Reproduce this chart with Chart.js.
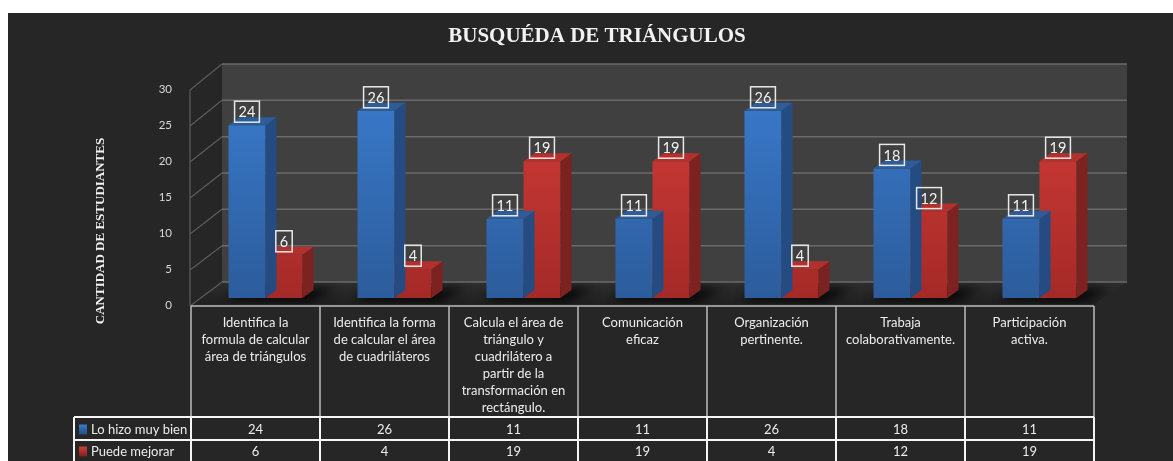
<!DOCTYPE html>
<html><head><meta charset="utf-8">
<script src="https://cdn.jsdelivr.net/npm/chart.js@4.4.1/dist/chart.umd.min.js"></script>
<style>html,body{margin:0;padding:0;background:#fff;overflow:hidden}canvas{display:block}</style>
</head><body>
<canvas id="c" width="1173" height="461"></canvas>
<script>
const chartTitle = "BUSQUÉDA DE TRIÁNGULOS";
const yAxisTitle = "CANTIDAD DE ESTUDIANTES";
const categories = [
  ["Identifica la", "formula de calcular", "área de triángulos"],
  ["Identifica la forma", "de calcular el área", "de cuadriláteros"],
  ["Calcula el área de", "triángulo y", "cuadrilátero a", "partir de la", "transformación en", "rectángulo."],
  ["Comunicación", "eficaz"],
  ["Organización", "pertinente."],
  ["Trabaja", "colaborativamente."],
  ["Participación", "activa."]
];
const seriesNames = ["Lo hizo muy bien", "Puede mejorar"];
const loHizoMuyBien = [24, 26, 11, 11, 26, 18, 11];
const puedeMejorar = [6, 4, 19, 19, 4, 12, 19];
const yTicks = [0, 5, 10, 15, 20, 25, 30];

const FONT = "Lato, 'Open Sans', sans-serif";
const SERIF = "'Liberation Serif', 'DejaVu Serif', serif";
const DX = 11, DY = -8;
const palette = [
  {top: '#3a7bcd', bottom: '#2c5c9b', side: '#244c82', cap: '#2d5c99'},
  {top: '#d43d39', bottom: '#a42a27', side: '#7c2220', cap: '#b3302c'}
];

function frontGrad(idx) {
  return (ctx) => {
    const chart = ctx.chart;
    const ca = chart.chartArea;
    if (!ca) return palette[idx].top;
    const g = chart.ctx.createLinearGradient(0, ca.top, 0, ca.bottom);
    g.addColorStop(0, palette[idx].top);
    g.addColorStop(1, palette[idx].bottom);
    return g;
  };
}

function geom(chart) {
  const ca = chart.chartArea, ys = chart.scales.y;
  const fx0 = ca.left - 11, fx1 = ca.right - 10;
  const bx0 = fx0 + 32, bx1 = fx1 + 33;
  const yf = v => ys.getPixelForValue(v) + 8;
  const yb = v => ys.getPixelForValue(v) - 16 - v * 0.067;
  return {ca, ys, fx0, fx1, bx0, bx1, yf, yb};
}

const backgroundPlugin = {
  id: 'bg',
  beforeDraw(chart) {
    const c = chart.ctx;
    c.save();
    c.fillStyle = '#ffffff';
    c.fillRect(0, 0, chart.width, chart.height);
    c.fillStyle = '#262626';
    c.fillRect(8, 13, chart.width - 8, chart.height - 13);
    c.fillStyle = '#f2f2f2';
    c.font = "bold 21px " + SERIF;
    c.textAlign = 'center';
    c.textBaseline = 'alphabetic';
    c.fillText(chartTitle, 597, 42);
    c.translate(101, 231);
    c.rotate(-Math.PI / 2);
    c.font = "bold 13px " + SERIF;
    c.textBaseline = 'middle';
    c.fillText(yAxisTitle, 0, 0);
    c.restore();
  }
};

const wallsPlugin = {
  id: 'walls',
  beforeDatasetsDraw(chart) {
    const {fx0, fx1, bx0, bx1, yf, yb} = geom(chart);
    const c = chart.ctx;
    c.save();
    c.fillStyle = '#404040';
    c.fillRect(bx0, yb(30), bx1 - bx0, yb(0) - yb(30));
    const fg = c.createLinearGradient(0, yb(0), 0, yf(0));
    fg.addColorStop(0, '#2e2e2e');
    fg.addColorStop(1, '#1e1e1e');
    c.fillStyle = fg;
    c.beginPath();
    c.moveTo(fx0, yf(0) - 2); c.lineTo(fx1, yf(0) - 2); c.lineTo(bx1, yb(0)); c.lineTo(bx0, yb(0)); c.closePath();
    c.fill();
    const metas = [chart.getDatasetMeta(0), chart.getDatasetMeta(1)];
    c.save();
    c.beginPath();
    c.moveTo(fx0, yf(0) - 2); c.lineTo(fx1, yf(0) - 2); c.lineTo(bx1, yb(0)); c.lineTo(bx0, yb(0)); c.closePath();
    c.clip();
    c.filter = 'blur(5px)';
    c.fillStyle = 'rgba(0,0,0,0.75)';
    metas[0].data.forEach((el, i) => {
      const el2 = metas[1].data[i];
      const l = el.x - el.width / 2, r = el2.x + el2.width / 2;
      c.beginPath();
      c.moveTo(l - 2, el.base + 2);
      c.lineTo(r + 6, el.base + 5);
      c.lineTo(r + DX + 22, el.base + DY - 2);
      c.lineTo(l + DX, el.base + DY - 2);
      c.closePath();
      c.fill();
    });
    c.restore();
    c.strokeStyle = '#6a6a6a';
    c.lineWidth = 1.5;
    yTicks.forEach(v => {
      c.beginPath(); c.moveTo(bx0, yb(v)); c.lineTo(bx1, yb(v)); c.stroke();
    });
    c.strokeStyle = '#5c5c5c';
    c.lineWidth = 1.2;
    yTicks.forEach(v => {
      c.beginPath(); c.moveTo(fx0, yf(v)); c.lineTo(bx0, yb(v)); c.stroke();
    });
    c.beginPath(); c.moveTo(fx0, yf(0)); c.lineTo(fx0, yf(30)); c.stroke();
    c.restore();
  }
};

const threeDPlugin = {
  id: 'threeD',
  afterDatasetDraw(chart, args) {
    const p = palette[args.index];
    const c = chart.ctx;
    c.save();
    args.meta.data.forEach(el => {
      const l = el.x - el.width / 2, r = el.x + el.width / 2, t = el.y, b = el.base;
      c.fillStyle = p.side;
      c.beginPath();
      c.moveTo(r, t); c.lineTo(r + DX, t + DY); c.lineTo(r + DX, b + DY); c.lineTo(r, b); c.closePath();
      c.fill();
      c.fillStyle = p.cap;
      c.beginPath();
      c.moveTo(l, t); c.lineTo(l + DX, t + DY); c.lineTo(r + DX, t + DY); c.lineTo(r, t); c.closePath();
      c.fill();
    });
    c.restore();
  }
};

const labelsPlugin = {
  id: 'valueLabels',
  afterDatasetsDraw(chart) {
    const c = chart.ctx;
    c.save();
    c.font = "14.5px " + FONT;
    c.textAlign = 'center';
    c.textBaseline = 'middle';
    chart.data.datasets.forEach((ds, di) => {
      chart.getDatasetMeta(di).data.forEach((el, i) => {
        const txt = String(ds.data[i]);
        const w = c.measureText(txt).width + 8, h = 21;
        const x = el.x - w / 2, y = el.y - 3 - h;
        c.strokeStyle = '#e8e8e8';
        c.lineWidth = 1.5;
        c.strokeRect(x, y, w, h);
        c.fillStyle = '#f2f2f2';
        c.fillText(txt, el.x, y + h / 2 + 1);
      });
    });
    c.restore();
  }
};

const tablePlugin = {
  id: 'dataTable',
  afterDraw(chart) {
    const c = chart.ctx;
    const xs = chart.scales.x;
    const {yf} = geom(chart);
    const n = categories.length;
    const cw = (xs.right - xs.left) / n;
    const L = i => xs.getPixelForValue(i) - cw / 2 - 10;
    const top = yf(0), hdrB = 417, r1 = 440, r2 = 463, legL = 74;
    c.save();
    c.strokeStyle = '#bdbdbd';
    c.lineWidth = 1.5;
    c.beginPath(); c.moveTo(L(0), top); c.lineTo(L(n), top); c.stroke();
    for (let i = 0; i <= n; i++) {
      c.beginPath(); c.moveTo(L(i), top); c.lineTo(L(i), hdrB); c.stroke();
    }
    c.strokeStyle = '#f5f5f5';
    c.lineWidth = 2;
    [hdrB, r1, r2].forEach(y => {
      c.beginPath(); c.moveTo(legL, y); c.lineTo(L(n), y); c.stroke();
    });
    [legL].concat([...Array(n + 1).keys()].map(L)).forEach(x => {
      c.beginPath(); c.moveTo(x, hdrB); c.lineTo(x, r2); c.stroke();
    });
    c.fillStyle = '#ececec';
    c.font = "13px " + FONT;
    c.textAlign = 'center';
    c.textBaseline = 'middle';
    categories.forEach((lines, i) => {
      const cx = L(i) + cw / 2;
      lines.forEach((ln, k) => c.fillText(ln, cx, 323 + k * 17));
    });
    const rows = [loHizoMuyBien, puedeMejorar];
    rows.forEach((arr, ri) => {
      const cy = ri === 0 ? (hdrB + r1) / 2 + 1 : (r1 + r2) / 2;
      arr.forEach((v, i) => c.fillText(String(v), L(i) + cw / 2, cy));
      const g = c.createLinearGradient(0, cy - 5, 0, cy + 5);
      g.addColorStop(0, palette[ri].top);
      g.addColorStop(1, palette[ri].side);
      c.fillStyle = g;
      c.fillRect(79, cy - 5, 8, 10);
      c.fillStyle = '#ececec';
      c.textAlign = 'left';
      c.fillText(seriesNames[ri], 91, cy);
      c.textAlign = 'center';
    });
    c.restore();
  }
};

new Chart(document.getElementById('c'), {
  type: 'bar',
  data: {
    labels: categories,
    datasets: [
      {label: seriesNames[0], data: loHizoMuyBien, backgroundColor: frontGrad(0), borderWidth: 0},
      {label: seriesNames[1], data: puedeMejorar, backgroundColor: frontGrad(1), borderWidth: 0}
    ]
  },
  options: {
    responsive: false,
    animation: false,
    devicePixelRatio: 1,
    layout: {padding: {left: 0, right: 69, top: 82, bottom: 163}},
    datasets: {bar: {categoryPercentage: 0.574, barPercentage: 1}},
    plugins: {legend: {display: false}, tooltip: {enabled: false}, title: {display: false}},
    scales: {
      x: {display: false},
      y: {
        min: 0, max: 30,
        afterFit: s => { s.width = 201; },
        grid: {display: false},
        border: {display: false},
        ticks: {stepSize: 5, color: '#d9d9d9', font: {family: FONT, size: 11.5}, padding: 21, labelOffset: 7}
      }
    }
  },
  plugins: [backgroundPlugin, wallsPlugin, threeDPlugin, labelsPlugin, tablePlugin]
});
</script>
</body></html>
